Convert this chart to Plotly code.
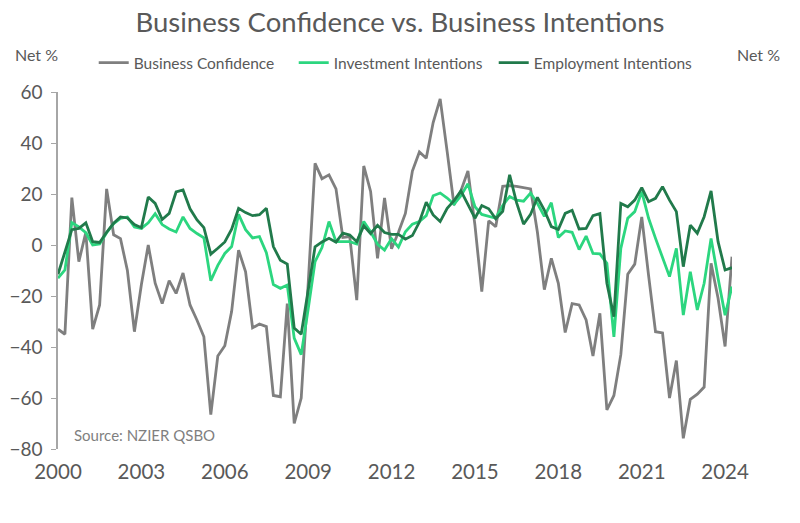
import pandas as pd
import plotly.graph_objects as go

# Quarterly, 2000Q1 .. 2024Q2
quarters = pd.date_range("2000-01-01", periods=98, freq="QS")

business_confidence = [
    -33, -35, 18.6, -6.5, 5, -33, -23.5, 22, 4, 2.5,
    -10, -34, -15.5, 0, -15, -23, -14, -19, -11, -23.5,
    -29.5, -36, -66.5, -43.5, -39.5, -26, -2, -10.5, -32.5, -31,
    -32, -59, -59.5, -23, -70, -60, -15, 32, 26, 27.5,
    22, 3, 3.3, -21.6, 31, 21, -5.2, 18.5, -1.5, 5,
    12.4, 29, 36.5, 34, 48, 57.3, 36.6, 15.7, 21.3, 29,
    7.8, -18.3, 9.5, 7.2, 23, 23.3, 23, 22.5, 22, 5,
    -17.5, -5.2, -15, -34.3, -23, -23.5, -29.4, -43.5, -26.8, -64.7,
    -59, -43, -11.5, -7.5, 11, -12, -34, -34.5, -60, -45.3,
    -75.8, -60.5, -58.5, -55.7, -7.2, -20.9, -39.8, -4.6,
]

investment_intentions = [
    -13, -9.8, 8.8, 7.1, 4.8, 0, 0.4, 4.8, 8.4, 10.4,
    11, 7.1, 6.5, 8.7, 12.3, 8, 6.3, 5.1, 11, 6.5,
    4.5, 2.8, -14, -8, -3.3, -0.6, 12, 6, 2.8, 3.3,
    -3, -15.5, -17, -15.7, -36.5, -43, -25, -6.5, -1, 9.2,
    1.3, 1.3, 1.3, 0.4, 9.2, 5.2, 0.3, -2, 2.5, -0.8,
    5.2, 8.2, 9.2, 11.5, 19.3, 20.4, 18.4, 16, 19.3, 24,
    15, 12, 11.2, 10.5, 15.5, 19, 17.6, 17.2, 20.4, 16.3,
    11.2, 16.6, 3, 5.5, 5, -1.8, 3.5, -3.3, -3.5, -7.2,
    -36, -1.3, 10.5, 13.1, 20.9, 10.5, 2.6, -5.2, -12.4, -1.3,
    -27.5, -10.5, -25.5, -15, 2.6, -13, -27.5, -16.3,
]

employment_intentions = [
    -11.5, -3, 6, 6.5, 8.7, 1.3, 1, 5, 8.5, 11,
    10.6, 8, 6.8, 18.8, 16.3, 10, 12.4, 20.8, 21.6, 14.2,
    9.8, 6.8, -3.6, -1.3, 1.2, 6.2, 14.4, 12.7, 11.5, 11.9,
    14.4, -0.6, -6, -7.5, -32.6, -35, -18, -0.7, 1.2, 2.6,
    1.1, 4.7, 3.9, 1.3, 7.5, 4.5, 7.7, 4.9, 4.2, 4.2,
    2.3, 3.7, 9, 16.8, 11.8, 9.2, 14.4, 17.4, 21.2, 16,
    10.5, 15.5, 14.2, 10.3, 13.2, 27.5, 16.6, 8.2, 12, 18.7,
    13.7, 7.2, 6.1, 12.4, 13.6, 6.3, 6.5, 11.5, 12.3, -15,
    -28.1, 16.3, 15, 17.6, 22.5, 17, 18.3, 22.9, 17.6, 13.1,
    -8.5, 7.8, 4.6, 11.1, 21.2, 1.3, -9.8, -8.9,
]

series_names = ["Business Confidence", "Investment Intentions", "Employment Intentions"]
series_colors = ["#7F7F7F", "#2CD67F", "#217A4B"]
y_ticks = [-80, -60, -40, -20, 0, 20, 40, 60]

FONT = "Lato, 'Open Sans', sans-serif"
TXT = "#595959"
AXIS = "#A6A6A6"

fig = go.Figure()
for name, vals, col in zip(series_names,
                           [business_confidence, investment_intentions, employment_intentions],
                           series_colors):
    fig.add_trace(go.Scatter(x=quarters, y=vals, name=name, mode="lines",
                             line=dict(color=col, width=2.8)))

W, H = 800, 523
xr = [quarters[0], quarters[-1]]
fig.update_layout(
    width=W, height=H,
    margin=dict(l=58, r=68, t=92, b=74),
    plot_bgcolor="white", paper_bgcolor="white",
    font=dict(family=FONT, color=TXT),
    title=dict(text="Business Confidence vs. Business Intentions",
               x=0.5, xref="container", xanchor="center",
               y=1 - 22 / H, yref="container", yanchor="middle",
               font=dict(size=27.5, color=TXT, family=FONT)),
    showlegend=True,
    legend=dict(orientation="h", x=0.053, xanchor="left", y=1.081, yanchor="middle",
                font=dict(size=15.5, color=TXT), itemwidth=30,
                entrywidth=155, entrywidthmode="pixels", bgcolor="rgba(0,0,0,0)"),
    xaxis=dict(type="date", range=xr, tick0="2000-01-01", dtick="M36", tickformat="%Y",
               showgrid=False, showline=False, ticks="", zeroline=False, automargin=False,
               tickfont=dict(size=20.5, color=TXT), ticklabelstandoff=8),
    xaxis2=dict(type="date", range=xr, tick0="2000-01-01", dtick="M36",
                overlaying="x", anchor="free", position=80 / 140, side="bottom",
                showline=True, linecolor=AXIS, linewidth=1.5, automargin=False,
                ticks="outside", ticklen=4, tickcolor=AXIS, tickwidth=1,
                showticklabels=False, showgrid=False, zeroline=False),
    yaxis=dict(range=[-80, 60], tickvals=y_ticks, showgrid=False, zeroline=False,
               showline=True, linecolor=AXIS, linewidth=1.5, automargin=False,
               ticks="outside", ticklen=5, tickcolor=AXIS, ticklabelstandoff=5,
               tickfont=dict(size=19, color=TXT)),
    yaxis2=dict(range=[-80, 60], tickvals=y_ticks, overlaying="y", side="right",
                showgrid=False, zeroline=False, automargin=False,
                showline=True, linecolor=AXIS, linewidth=1.5,
                ticks="outside", ticklen=5, tickcolor=AXIS, ticklabelstandoff=6,
                tickfont=dict(size=19, color=TXT)),
    annotations=[
        dict(text="Net %", xref="paper", yref="paper", x=(36 - 58) / 674, y=(449 - 55) / 357,
             xanchor="center", yanchor="middle", showarrow=False,
             font=dict(size=16, color=TXT)),
        dict(text="Net %", xref="paper", yref="paper", x=(758 - 58) / 674, y=(449 - 55) / 357,
             xanchor="center", yanchor="middle", showarrow=False,
             font=dict(size=16, color=TXT)),
        dict(text="Source: NZIER QSBO", xref="paper", yref="paper", x=14 / 674, y=14 / 357,
             xanchor="left", yanchor="middle", showarrow=False,
             font=dict(size=15, color="#7F7F7F")),
    ],
)

fig.write_html("out.html", config={"displayModeBar": False},
               post_script="document.body.style.margin='0';")
